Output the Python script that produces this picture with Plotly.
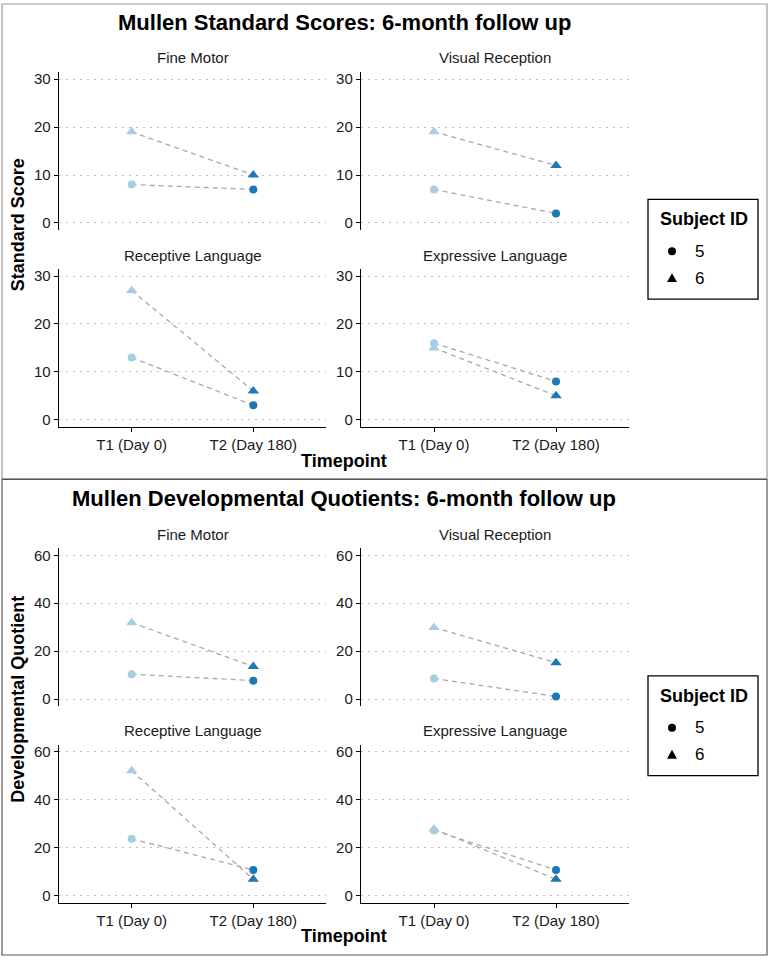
import plotly.graph_objects as go

# ---------------- data ----------------
timepoints = ["T1 (Day 0)", "T2 (Day 180)"]
domains = ["Fine Motor", "Visual Reception", "Receptive Language", "Expressive Language"]
subjects = ["5", "6"]

# Standard scores: [T1, T2] per domain
ss_subject5 = [[8, 7], [7, 2], [13, 3], [16, 8]]
ss_subject6 = [[19, 10], [19, 12], [27, 6], [15, 5]]

# Developmental quotients: [T1, T2] per domain
dq_subject5 = [[10.4, 7.7], [8.6, 1.1], [23.8, 10.8], [27.3, 10.8]]
dq_subject6 = [[31.9, 13.6], [29.9, 15.2], [52.2, 6.9], [27.9, 6.9]]

ss_ticks = [0, 10, 20, 30]
dq_ticks = [0, 20, 40, 60]

# ---------------- style ----------------
W, H = 770, 960
FONT = "Liberation Sans, Arial, sans-serif"
TP_COLORS = ["#A6CEE3", "#1F78B4"]
SYMBOLS = {"5": "circle", "6": "triangle-up"}
SIZES = {"5": 8, "6": 10}
LINE_COLOR = "#A9A9A9"


def px(x):
    return x / W


def py(y):
    return 1 - y / H


fig = go.Figure()

panels = [
    dict(title="Mullen Standard Scores: 6-month follow up", ytitle="Standard Score",
         s5=ss_subject5, s6=ss_subject6, ticks=ss_ticks, yrange=[-1.5, 31.5],
         rows=[(70.1, 228.9), (267.8, 426.2)], title_y=21, strip_y=[56, 254],
         xtitle_y=460, ytitle_y=224, leg_top=198, box=(2, 2, 767, 478),
         boxcolor="#9a9a9a"),
    dict(title="Mullen Developmental Quotients: 6-month follow up", ytitle="Developmental Quotient",
         s5=dq_subject5, s6=dq_subject6, ticks=dq_ticks, yrange=[-3, 63],
         rows=[(547.8, 706.5), (745.1, 903.9)], title_y=498, strip_y=[534, 731],
         xtitle_y=937, ytitle_y=700, leg_top=676, box=(2, 479, 767, 956),
         boxcolor="#555555"),
]
cols = [(58.7, 326.3), (360.8, 629.2)]

layout = dict(
    width=W, height=H, margin=dict(l=0, r=0, t=0, b=0),
    paper_bgcolor="white", plot_bgcolor="white",
    font=dict(family=FONT, color="black"),
    showlegend=False,
)
annotations = []
shapes = []

k = 0
for p in panels:
    # panel border
    x0, y0, x1, y1 = p["box"]
    shapes.append(dict(type="rect", xref="paper", yref="paper", layer="below",
                       x0=px(x0), x1=px(x1), y0=py(y1), y1=py(y0),
                       line=dict(color=p["boxcolor"], width=1.2)))
    for di, dname in enumerate(domains):
        k += 1
        r, c = divmod(di, 2)
        xd = cols[c]
        yd = p["rows"][r]
        xa = "xaxis" if k == 1 else f"xaxis{k}"
        ya = "yaxis" if k == 1 else f"yaxis{k}"
        xs = "x" if k == 1 else f"x{k}"
        ys = "y" if k == 1 else f"y{k}"
        bottom = (r == 1)
        layout[xa] = dict(
            domain=[px(xd[0]), px(xd[1])], anchor=ys, type="category",
            categoryorder="array", categoryarray=timepoints, range=[-0.6, 1.6],
            showgrid=False, zeroline=False, fixedrange=True,
            showline=bottom, linecolor="black", linewidth=1.1,
            ticks="outside" if bottom else "", ticklen=4, tickcolor="black", tickwidth=1.1,
            showticklabels=bottom, tickfont=dict(size=15, color="#1a1a1a", family=FONT),
        )
        layout[ya] = dict(
            domain=[py(yd[1]), py(yd[0])], anchor=xs, range=p["yrange"],
            tickmode="array", tickvals=p["ticks"], ticktext=[str(t) for t in p["ticks"]],
            showgrid=True, gridcolor="#BDBDBD", griddash="2px,5px", gridwidth=1.4,
            zeroline=False, showline=True, linecolor="black", linewidth=1.1,
            ticks="outside", ticklen=4, tickcolor="black", tickwidth=1.1,
            tickfont=dict(size=15, color="#1a1a1a", family=FONT), fixedrange=True,
        )
        # strip title
        annotations.append(dict(text=dname, xref="paper", yref="paper",
                                x=px((xd[0] + xd[1]) / 2), y=py(p["strip_y"][r]),
                                xanchor="center", yanchor="middle", showarrow=False,
                                font=dict(size=15, color="#1a1a1a", family=FONT)))
        series = {"5": p["s5"][di], "6": p["s6"][di]}
        # dashed connecting lines first
        for s in subjects:
            fig.add_trace(go.Scatter(
                x=timepoints, y=series[s], mode="lines", xaxis=xs, yaxis=ys,
                line=dict(color=LINE_COLOR, width=1.3, dash="5px,4px"),
                showlegend=False, hoverinfo="skip"))
        # points on top
        for s in subjects:
            fig.add_trace(go.Scatter(
                x=timepoints, y=series[s], mode="markers", xaxis=xs, yaxis=ys,
                marker=dict(color=TP_COLORS, symbol=SYMBOLS[s], size=SIZES[s],
                            line=dict(width=0)),
                showlegend=False, name=s))

    # ---- hand-built legend box ----
    lt = p["leg_top"]
    shapes.append(dict(type="rect", xref="paper", yref="paper",
                       x0=px(648), x1=px(758), y0=py(lt + 100), y1=py(lt),
                       line=dict(color="black", width=1.3), fillcolor="white"))
    annotations.append(dict(text="<b>Subject ID</b>", xref="paper", yref="paper",
                            x=px(658), y=py(lt + 20), xanchor="left", yanchor="middle",
                            showarrow=False, font=dict(size=18, family=FONT)))
    # key for subject 5 (circle)
    yc = lt + 52
    shapes.append(dict(type="circle", xref="paper", yref="paper",
                       x0=px(668), x1=px(676), y0=py(yc + 4), y1=py(yc - 4),
                       fillcolor="black", line=dict(width=0)))
    # key for subject 6 (triangle)
    yt = lt + 79
    shapes.append(dict(type="path", xref="paper", yref="paper",
                       path=f"M {px(667)},{py(yt + 4)} L {px(677)},{py(yt + 4)} L {px(672)},{py(yt - 5)} Z",
                       fillcolor="black", line=dict(width=0)))
    for i, s in enumerate(subjects):
        yy = lt + 52 + 27 * i
        annotations.append(dict(text=s, xref="paper", yref="paper",
                                x=px(693), y=py(yy), xanchor="left", yanchor="middle",
                                showarrow=False, font=dict(size=17, family=FONT)))
    # titles
    annotations.append(dict(text=f"<b>{p['title']}</b>", xref="paper", yref="paper",
                            x=px(344), y=py(p["title_y"]), xanchor="center", yanchor="middle",
                            showarrow=False, font=dict(size=22, family=FONT)))
    annotations.append(dict(text="<b>Timepoint</b>", xref="paper", yref="paper",
                            x=px(344), y=py(p["xtitle_y"]), xanchor="center", yanchor="middle",
                            showarrow=False, font=dict(size=18, family=FONT)))
    annotations.append(dict(text=f"<b>{p['ytitle']}</b>", xref="paper", yref="paper",
                            x=px(18), y=py(p["ytitle_y"]), xanchor="center", yanchor="middle",
                            textangle=-90, showarrow=False, font=dict(size=18, family=FONT)))

layout["annotations"] = annotations
layout["shapes"] = shapes
fig.update_layout(**layout)
fig.write_html("out.html")
